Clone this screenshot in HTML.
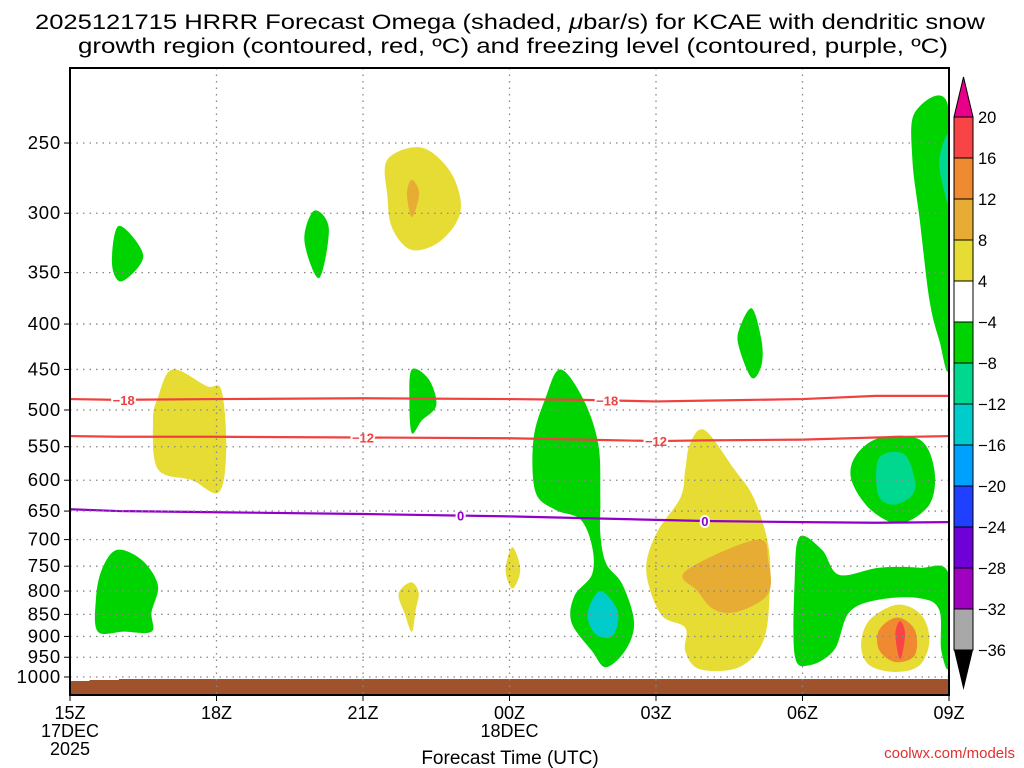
<!DOCTYPE html>
<html><head><meta charset="utf-8"><style>
html,body{margin:0;padding:0;background:#fff;}
svg{display:block;font-family:"Liberation Sans",sans-serif;}
</style></head><body>
<svg id="chart" width="1024" height="768" viewBox="0 0 1024 768">
<text x="35" y="29" font-size="21" textLength="950" lengthAdjust="spacingAndGlyphs">2025121715 HRRR Forecast Omega (shaded, <tspan font-style="italic">μ</tspan>bar/s) for KCAE with dendritic snow</text>
<text x="78" y="53" font-size="21" textLength="870" lengthAdjust="spacingAndGlyphs">growth region (contoured, red, ºC) and freezing level (contoured, purple, ºC)</text>
<g id="plot"></g>
<g id="cbar"></g>
<text x="510" y="764" text-anchor="middle" font-size="19">Forecast Time (UTC)</text>
<text x="1015" y="758" text-anchor="end" font-size="15" fill="#e03030">coolwx.com/models</text>
</svg>
<script>
const hourTicks=[0,3,6,9,12,15,18];
const hourLabels=["15Z","18Z","21Z","00Z","03Z","06Z","09Z"];
const pressureTicks=[250,300,350,400,450,500,550,600,650,700,750,800,850,900,950,1000];
const cbarLevels=["20","16","12","8","4","−4","−8","−12","−16","−20","−24","−28","−32","−36"];
const cbarColors=["#f84444","#f08a30","#e6ac34","#e6dc34","#ffffff","#00d400","#00d890","#00cccc","#00a0ff","#2040ff","#7000d8","#a000c0","#a8a8a8"];
const lineHours=[0,1,3,6,9,10.5,12,13,15,16.5,18];
const tm18=[486,487,486,485,486,487,489,488,486,482,482];
const tm12=[535,536,536,537,538,540,542,541,540,537,535];
const t0=[647,650,652,655,659,662,665,667,669,670,669];
const blobs=[
["#00d400",[[1.0,310],[1.5,335],[1.06,358],[0.86,342]]],
["#00d400",[[5.0,298],[5.3,312],[5.1,355],[4.8,322]]],
["#e6dc34",[[6.5,261],[7.2,253],[7.8,270],[8.0,298],[7.6,322],[7.0,330],[6.6,312],[6.5,287]]],
["#e6ac34",[[7.0,275],[7.15,285],[7.0,303],[6.9,285]]],
["#e6dc34",[[2.1,450],[2.8,470],[3.1,475],[3.2,553],[3.05,619],[2.5,600],[1.8,583],[1.7,514],[1.8,484]]],
["#00d400",[[7.0,450],[7.35,462],[7.5,494],[7.2,514],[7.0,531],[6.95,488]]],
["#00d400",[[10.04,450],[10.51,486],[10.82,547],[10.86,628],[10.86,690],[10.98,745],[11.31,786],[11.55,866],[11.39,930],[10.98,975],[10.69,935],[10.27,868],[10.33,810],[10.69,766],[10.69,712],[10.45,664],[9.94,648],[9.53,618],[9.49,540],[9.73,486]]],
["#00cccc",[[10.86,800],[11.22,845],[11.1,900],[10.75,893],[10.6,848]]],
["#e6dc34",[[13.0,527],[13.6,583],[14.0,628],[14.3,710],[14.33,800],[14.2,910],[13.7,975],[12.9,980],[12.6,935],[12.6,880],[12.1,850],[11.8,760],[12.0,690],[12.5,628],[12.6,583],[12.7,545]]],
["#e6ac34",[[12.6,760],[14.06,700],[14.3,740],[14.3,805],[13.7,843],[13.2,840],[12.85,800]]],
["#00d400",[[13.96,384],[14.16,417],[14.16,445],[13.96,460],[13.7,425],[13.7,406]]],
["#00d400",[[17.3,231],[17.96,225],[18.0,300],[18.0,445],[17.8,417],[17.6,376],[17.4,305],[17.25,261]]],
["#00d890",[[18.0,245],[17.8,261],[17.9,283],[18.0,290]]],
["#00d400",[[16.6,537],[17.4,540],[17.7,584],[17.6,639],[17.0,671],[16.4,648],[16.0,599],[16.1,562]]],
["#00d890",[[16.57,566],[17.1,562],[17.3,615],[16.9,639],[16.55,623]]],
["#00d400",[[14.94,695],[15.4,719],[15.75,767],[16.57,753],[17.4,753],[18.0,767],[18.0,970],[17.84,932],[17.8,840],[17.4,815],[16.57,818],[15.96,845],[15.65,932],[15.14,970],[14.84,945],[14.84,778]]],
["#e6dc34",[[16.94,829],[17.43,851],[17.6,909],[17.4,970],[16.9,987],[16.37,970],[16.2,921],[16.37,863]]],
["#f08a30",[[16.94,857],[17.3,885],[17.3,945],[16.9,962],[16.57,932],[16.57,885]]],
["#f84444",[[17.0,865],[17.1,895],[17.0,955],[16.9,895]]],
["#00d400",[[0.96,719],[1.47,738],[1.8,788],[1.67,845],[1.67,889],[1.1,889],[0.57,889],[0.53,818],[0.65,757]]],
["#e6dc34",[[6.98,782],[7.14,803],[7.08,840],[7.0,889],[6.86,850],[6.73,806]]],
["#e6dc34",[[9.06,714],[9.22,757],[9.06,795],[8.92,757]]]
];
const NS="http://www.w3.org/2000/svg";
const L=70,R=949,T=68,B=695;
const xs=h=>L+(R-L)*h/18;
const ys=p=>143+(677-143)*Math.log(p/250)/Math.log(4);
function mk(tag,attrs,parent){const e=document.createElementNS(NS,tag);for(const k in attrs)e.setAttribute(k,attrs[k]);parent.appendChild(e);return e;}
const plot=document.getElementById('plot');
const cl=mk('clipPath',{id:'pc'},plot);mk('rect',{x:L,y:T,width:R-L,height:B-T},cl);
const g=mk('g',{'clip-path':'url(#pc)'},plot);
function smooth(pts){const n=pts.length;let d=`M${pts[0][0]},${pts[0][1]}`;for(let i=0;i<n;i++){const p0=pts[(i-1+n)%n],p1=pts[i],p2=pts[(i+1)%n],p3=pts[(i+2)%n];const c1=[p1[0]+(p2[0]-p0[0])/6,p1[1]+(p2[1]-p0[1])/6],c2=[p2[0]-(p3[0]-p1[0])/6,p2[1]-(p3[1]-p1[1])/6];d+=`C${c1[0]},${c1[1]} ${c2[0]},${c2[1]} ${p2[0]},${p2[1]}`;}return d+'Z';}
blobs.forEach((b,i)=>{const pts=b[1].map(q=>[xs(q[0]),ys(q[1])]);
const e=mk('path',{d:smooth(pts),fill:b[0]},g);

});
const gy=ys(1000);
const gr=mk('path',{d:`M${L},${gy+4} L${xs(0.4)},${gy+4} L${xs(0.4)},${gy+3} L${xs(1)},${gy+3} L${xs(1)},${gy+2} L${R},${gy+2} L${R},${B} L${L},${B}Z`,fill:'#a0522d'},g);


pressureTicks.forEach(p=>{const y=ys(p);
const gl=mk('line',{x1:L,x2:R,y1:y,y2:y,stroke:'#888','stroke-width':1.3,'stroke-dasharray':'1.5,5'},plot);


mk('line',{x1:L-6,x2:L,y1:y,y2:y,stroke:'#000'},plot);
const t=mk('text',{x:L-9,y:y+6,'text-anchor':'end','font-size':18.5,'letter-spacing':0.8},plot);t.textContent=p;

});
hourTicks.forEach((h,i)=>{const x=xs(h);
if(i>0&&i<6){const vl=mk('line',{x1:x,x2:x,y1:T,y2:B,stroke:'#888','stroke-width':1.3,'stroke-dasharray':'1.5,5'},plot);

}
mk('line',{x1:x,x2:x,y1:B,y2:B+6,stroke:'#000'},plot);
const t=mk('text',{x:x,y:B+24,'text-anchor':'middle','font-size':18},plot);t.textContent=hourLabels[i];

});
[["17DEC",0,1],["2025",0,2],["18DEC",9,1]].forEach(a=>{const t=mk('text',{x:xs(a[1]),y:B+24+a[2]*18,'text-anchor':'middle','font-size':18},plot);t.textContent=a[0];

});
function iso(vals,color,label,labHours,name){
const pts=lineHours.map((h,i)=>[xs(h),ys(vals[i])]);
const e=mk('polyline',{points:pts.map(p=>p.join(',')).join(' '),fill:'none',stroke:color,'stroke-width':2.2},g);


labHours.forEach(h=>{let j=0;while(j<lineHours.length-2&&lineHours[j+1]<h)j++;const f=(h-lineHours[j])/(lineHours[j+1]-lineHours[j]);const p=vals[j]+(vals[j+1]-vals[j])*f;const x=xs(h),y=ys(p);
const t=mk('text',{x:x,y:y+5,'text-anchor':'middle','font-size':13,'font-weight':'bold',fill:color,stroke:'#fff','stroke-width':4,'paint-order':'stroke'},g);t.textContent=label;

});}
iso(tm18,'#f04040','−18',[1.1,11.0],'isotherm-minus18');
iso(tm12,'#f04040','−12',[6.0,12.0],'isotherm-minus12');
iso(t0,'#9000c8','0',[8.0,13.0],'freezing-level');
const fr=mk('rect',{x:L,y:T,width:R-L,height:B-T,fill:'none',stroke:'#000','stroke-width':2},plot);


const cb=document.getElementById('cbar');const cx=954,cw=19,cbTop=117,bh=41;
const tt=mk('polygon',{points:`${cx},${cbTop} ${cx+cw},${cbTop} ${cx+cw/2},${cbTop-40}`,fill:'#e8008a',stroke:'#000'},cb);


cbarColors.forEach((c,i)=>{const r=mk('rect',{x:cx,y:cbTop+i*bh,width:cw,height:bh,fill:c,stroke:'#000'},cb);

});
const bt=mk('polygon',{points:`${cx},${cbTop+13*bh} ${cx+cw},${cbTop+13*bh} ${cx+cw/2},${cbTop+13*bh+40}`,fill:'#000'},cb);


cbarLevels.forEach((l,i)=>{const t=mk('text',{x:978,y:cbTop+i*bh+6,'font-size':16.5},cb);t.textContent=l;

});
</script>
</body></html>
